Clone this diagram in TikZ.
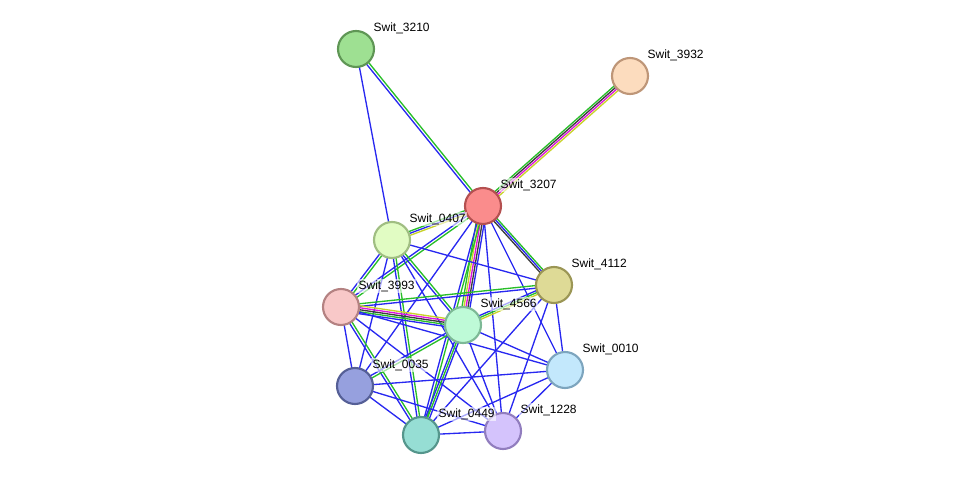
\documentclass[tikz,border=0pt]{standalone}
\usepackage{fontspec}
\setmainfont{Liberation Sans}
\usetikzlibrary{calc}
\definecolor{eb}{RGB}{40,40,240}
\definecolor{eg}{RGB}{40,190,40}
\definecolor{em}{RGB}{220,20,220}
\definecolor{ey}{RGB}{200,210,40}
\definecolor{ek}{RGB}{60,60,60}
\newcommand{\E}[4]{\draw[#4,line width=1pt] ($(#1)!#3!90:(#2)$) -- ($(#2)!#3!-90:(#1)$);}
\begin{document}
\begin{tikzpicture}[x=0.75pt,y=-0.75pt,
  nd/.style={circle,minimum size=27pt,line width=1.6pt,inner sep=0pt},
  lb/.style={font=\fontsize{9pt}{10pt}\selectfont,anchor=south west,inner sep=1pt,fill=white,fill opacity=0.6,text opacity=1}]
\useasboundingbox (0,0) rectangle (976,481);
\coordinate (n3210) at (356,49);
\coordinate (n3932) at (630,76);
\coordinate (n3207) at (483,206);
\coordinate (n0407) at (392,240);
\coordinate (n4112) at (554,285);
\coordinate (n3993) at (341,307);
\coordinate (n4566) at (463,325);
\coordinate (n0010) at (565,370);
\coordinate (n0035) at (355,386);
\coordinate (n0449) at (421,435);
\coordinate (n1228) at (503,431);
% edges
\E{n3210}{n3207}{-1pt}{eb}\E{n3210}{n3207}{1pt}{eg}
\E{n3210}{n0407}{0pt}{eb}
\E{n3932}{n3207}{-2.25pt}{eg}\E{n3932}{n3207}{-0.75pt}{ek}\E{n3932}{n3207}{0.75pt}{em}\E{n3932}{n3207}{2.25pt}{ey}
\E{n3207}{n0407}{-1.5pt}{eg}\E{n3207}{n0407}{0pt}{eb}\E{n3207}{n0407}{1.5pt}{ey}
\E{n3207}{n4112}{-1.5pt}{ek}\E{n3207}{n4112}{0pt}{eb}\E{n3207}{n4112}{1.5pt}{eg}
\E{n3207}{n4566}{-3pt}{eg}\E{n3207}{n4566}{-1.5pt}{ey}\E{n3207}{n4566}{0pt}{em}\E{n3207}{n4566}{1.5pt}{ek}\E{n3207}{n4566}{3pt}{eb}
\E{n3207}{n3993}{-1pt}{eb}\E{n3207}{n3993}{1pt}{eg}
\E{n3207}{n0035}{0pt}{eb}
\E{n3207}{n0449}{-1pt}{eb}\E{n3207}{n0449}{1pt}{eg}
\E{n3207}{n1228}{0pt}{eb}
\E{n3207}{n0010}{0pt}{eb}
\E{n0407}{n4566}{-1pt}{eb}\E{n0407}{n4566}{1pt}{eg}
\E{n0407}{n3993}{-1pt}{eb}\E{n0407}{n3993}{1pt}{eg}
\E{n0407}{n4112}{0pt}{eb}
\E{n0407}{n0035}{0pt}{eb}
\E{n0407}{n0449}{-1pt}{eb}\E{n0407}{n0449}{1pt}{eg}
\E{n0407}{n1228}{0pt}{eb}
\E{n3993}{n4112}{-1pt}{eb}\E{n3993}{n4112}{1pt}{eg}
\E{n3993}{n4566}{-3pt}{eb}\E{n3993}{n4566}{-1.5pt}{eg}\E{n3993}{n4566}{0pt}{ek}\E{n3993}{n4566}{1.5pt}{em}\E{n3993}{n4566}{3pt}{ey}
\E{n3993}{n0035}{0pt}{eb}
\E{n3993}{n0449}{-1pt}{eb}\E{n3993}{n0449}{1pt}{eg}
\E{n3993}{n0010}{0pt}{eb}
\E{n3993}{n1228}{0pt}{eb}
\E{n4112}{n4566}{-1.5pt}{eb}\E{n4112}{n4566}{0pt}{eg}\E{n4112}{n4566}{1.5pt}{ey}
\E{n4112}{n0010}{0pt}{eb}
\E{n4112}{n1228}{0pt}{eb}
\E{n4112}{n0449}{0pt}{eb}
\E{n4566}{n0035}{-1pt}{eb}\E{n4566}{n0035}{1pt}{eg}
\E{n4566}{n0449}{-1.5pt}{eb}\E{n4566}{n0449}{0pt}{eg}\E{n4566}{n0449}{1.5pt}{eb}
\E{n4566}{n0010}{0pt}{eb}
\E{n4566}{n1228}{0pt}{eb}
\E{n0035}{n0010}{0pt}{eb}
\E{n0035}{n0449}{0pt}{eb}
\E{n0035}{n1228}{0pt}{eb}
\E{n0449}{n1228}{0pt}{eb}
\E{n0449}{n0010}{0pt}{eb}
\E{n1228}{n0010}{0pt}{eb}
% nodes
\node[nd,fill={rgb,255:red,158;green,224;blue,146},draw={rgb,255:red,95;green,150;blue,85}] (a3210) at (n3210) {};
\node[nd,fill={rgb,255:red,252;green,220;blue,190},draw={rgb,255:red,190;green,150;blue,120}] (a3932) at (n3932) {};
\node[nd,fill={rgb,255:red,250;green,140;blue,140},draw={rgb,255:red,180;green,80;blue,80}] (a3207) at (n3207) {};
\node[nd,fill={rgb,255:red,225;green,252;blue,195},draw={rgb,255:red,160;green,190;blue,130}] (a0407) at (n0407) {};
\node[nd,fill={rgb,255:red,222;green,218;blue,150},draw={rgb,255:red,155;green,150;blue,85}] (a4112) at (n4112) {};
\node[nd,fill={rgb,255:red,248;green,200;blue,200},draw={rgb,255:red,180;green,130;blue,130}] (a3993) at (n3993) {};
\node[nd,fill={rgb,255:red,190;green,250;blue,215},draw={rgb,255:red,125;green,185;blue,150}] (a4566) at (n4566) {};
\node[nd,fill={rgb,255:red,195;green,232;blue,252},draw={rgb,255:red,125;green,165;blue,190}] (a0010) at (n0010) {};
\node[nd,fill={rgb,255:red,150;green,160;blue,222},draw={rgb,255:red,85;green,95;blue,150}] (a0035) at (n0035) {};
\node[nd,fill={rgb,255:red,150;green,222;blue,212},draw={rgb,255:red,85;green,150;blue,140}] (a0449) at (n0449) {};
\node[nd,fill={rgb,255:red,212;green,195;blue,252},draw={rgb,255:red,145;green,125;blue,190}] (a1228) at (n1228) {};
% labels
\node[lb] at (372,35) {Swit\_3210};
\node[lb] at (646,62) {Swit\_3932};
\node[lb] at (499,192) {Swit\_3207};
\node[lb] at (408,226) {Swit\_0407};
\node[lb] at (570,271) {Swit\_4112};
\node[lb] at (357,293) {Swit\_3993};
\node[lb] at (479,311) {Swit\_4566};
\node[lb] at (581,356) {Swit\_0010};
\node[lb] at (371,372) {Swit\_0035};
\node[lb] at (437,421) {Swit\_0449};
\node[lb] at (519,417) {Swit\_1228};
\end{tikzpicture}
\end{document}
